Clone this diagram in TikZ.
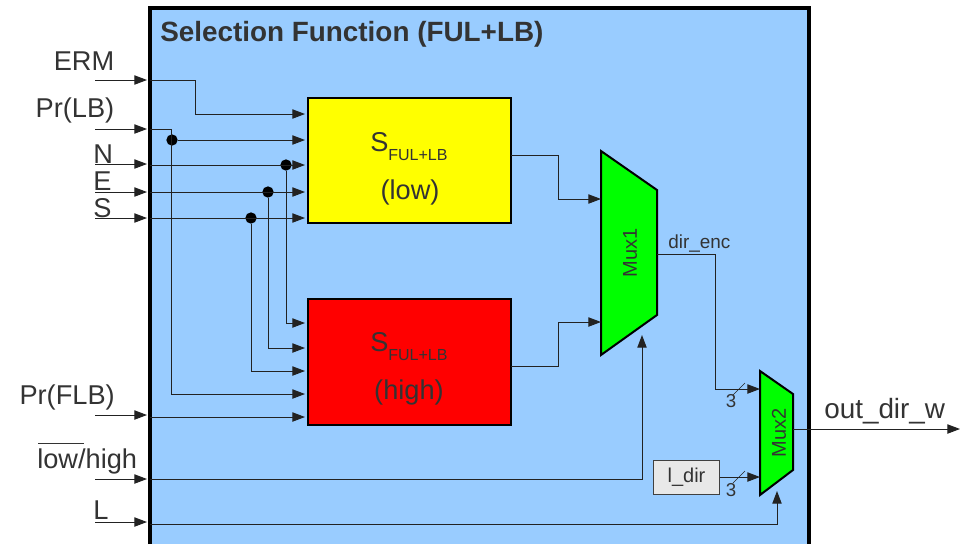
\documentclass[tikz,border=0pt]{standalone}
\usepackage{fontspec}
\setmainfont{Liberation Sans}
\usetikzlibrary{arrows.meta}
\definecolor{panelblue}{HTML}{99CCFF}
\definecolor{txt}{HTML}{333333}
\definecolor{wirec}{HTML}{222222}
\definecolor{blkyellow}{RGB}{255,255,0}
\definecolor{blkred}{RGB}{255,0,0}
\definecolor{blkgreen}{RGB}{0,255,0}
\tikzset{
  x=0.75pt,y=-0.75pt,
  wire/.style={draw=wirec,line width=0.75pt},
  arr/.style={wire,-{Triangle[length=9.5pt,width=7pt]}},
  blockbox/.style={draw=black,line width=1.3pt,minimum width=152pt,minimum height=94pt,inner sep=0pt},
  muxshape/.style={draw=black,line width=1.5pt,fill=blkgreen,line join=miter},
  lab/.style={inner sep=0pt,text=txt,font=\fontsize{20.4}{20}\selectfont},
  small/.style={inner sep=0pt,text=txt,font=\fontsize{12}{12}\selectfont},
  dot/.style={circle,fill=black,inner sep=0pt,minimum size=8.5pt},
  slash/.style={draw=wirec,line width=0.4pt},
}
\begin{document}
\begin{tikzpicture}
\useasboundingbox (0,0) rectangle (975,544);
% panel
\fill[panelblue] (150,8) rectangle (809,544);
\draw[black,line width=2.6pt] (150,544) -- (150,8) -- (809,8) -- (809,544);
\node[anchor=west,inner sep=0pt,text=txt,font=\bfseries\fontsize{20.9}{20}\selectfont] (title) at (160,34) {Selection Function (FUL+LB)};

% blocks
\node[blockbox,fill=blkyellow] (low) at (409.5,160.5) {};
\node[blockbox,fill=blkred] (high) at (409.5,362) {};
\node[lab,anchor=base west] (lowS) at (370,151) {S\raisebox{-7pt}{\fontsize{12}{12}\selectfont FUL+LB}};
\node[lab,anchor=center] (lowT) at (410,192) {(low)};
\node[lab,anchor=base west] (highS) at (370,351) {S\raisebox{-7pt}{\fontsize{12}{12}\selectfont FUL+LB}};
\node[lab,anchor=center] (highT) at (409,392) {(high)};

% muxes
\draw[muxshape] (601,151) -- (657,190) -- (657,315) -- (601,355) -- cycle;
\draw[muxshape] (760,371) -- (793,394) -- (793,470) -- (760,495) -- cycle;
\node[inner sep=0pt,text=txt,rotate=90,font=\fontsize{15}{15}\selectfont] (muxa) at (630,253) {Mux1};
\node[inner sep=0pt,text=txt,rotate=90,font=\fontsize{15}{15}\selectfont] (muxb) at (779,433) {Mux2};
\coordinate (a1) at (601,199);
\coordinate (a2) at (601,322);
\coordinate (a3) at (642,335);
\coordinate (aout) at (657,254);
\coordinate (b1) at (760,389);
\coordinate (b2) at (760,477);
\coordinate (b3) at (777,491);
\coordinate (bout) at (793,429);

% ldir
\node[draw=black!75,line width=0.7pt,fill=black!9,minimum width=50pt,minimum height=25.5pt,inner sep=0pt,text=txt,font=\fontsize{15}{14}\selectfont] (ldir) at (686.5,477) {l\_dir};

% outer stubs
\foreach \nm/\ys/\yw in {erm/80/80,prlb/129/129,n/164/165,e/192/192,s/218/218,prf/415/417,lh/479/479,l/522/524}{
  \coordinate (\nm o) at (95,\ys);
  \coordinate (\nm i) at (147,\ys);
  \coordinate (\nm w) at (150,\yw);
  \draw[arr] (\nm o) -- (\nm i);
}

% input labels
\node[lab,anchor=east] (lerm) at (114.5,61) {ERM};
\node[lab,anchor=east] (lprlb) at (114.5,110) {Pr(LB)};
\node[lab,anchor=west] (ln) at (93,154) {N};
\node[lab,anchor=west] (le) at (93,181) {E};
\node[lab,anchor=west] (ls) at (93,208) {S};
\node[lab,anchor=east] (lprf) at (115,397) {Pr(FLB)};
\node[lab,anchor=west] (llh) at (37,461) {low/high};
\draw[draw=txt,line width=0.6pt] (38,443) -- (84,443);
\node[lab,anchor=west] (ll) at (93,510) {L};

% dots
\node[dot] (d1) at (172,140) {};
\node[dot] (d2) at (286,165) {};
\node[dot] (d3) at (268,192) {};
\node[dot] (d4) at (251,218) {};

% wires to low block
\draw[arr] (ermw) -- (195,80) -- (195,114) -- (305,114);
\draw[arr] (d1) -- (305,140);
\draw[arr] (nw) -- (305,165);
\draw[arr] (ew) -- (305,192);
\draw[arr] (sw) -- (305,218);
% wires to high block
\draw[arr] (prlbw) -- (171,129) -- (171,394) -- (305,394);
\draw[arr] (d2) -- (286,323) -- (305,323);
\draw[arr] (d3) -- (268,348) -- (305,348);
\draw[arr] (d4) -- (251,371) -- (305,371);
\draw[arr] (prfw) -- (305,417);
% block outputs
\draw[arr] (511,155) -- (558,155) -- (558,199) -- (a1);
\draw[arr] (511,366) -- (558,366) -- (558,322) -- (a2);
% control
\draw[arr] (lhw) -- (642,479) -- (a3);
\draw[arr] (lw) -- (777,524) -- (b3);
% mux outputs
\draw[arr] (aout) -- (715,254) -- (715,389) -- (b1);
\draw[arr] (ldir) -- (b2);
\draw[arr] (bout) -- (960,429);
% bus slashes
\draw[slash] (733,395) -- (745,383);
\draw[slash] (733,483) -- (745,471);
% labels
\node[small,font=\fontsize{14.2}{12}\selectfont,anchor=west] (denc) at (668,244) {dir\_enc};
\node[small,font=\fontsize{14}{13}\selectfont] (n3a) at (731,401) {3};
\node[small,font=\fontsize{14}{13}\selectfont] (n3b) at (731,490) {3};
\node[lab,font=\fontsize{20.9}{20}\selectfont,anchor=west] (lout) at (824,411) {out\_dir\_w};
\end{tikzpicture}
\end{document}
